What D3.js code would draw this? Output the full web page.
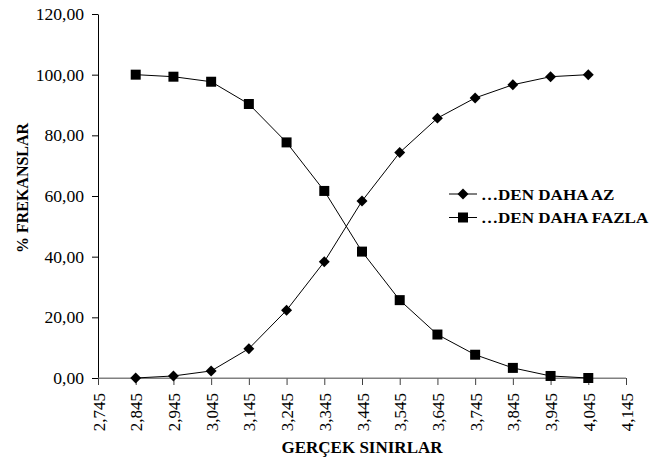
<!DOCTYPE html>
<html><head><meta charset="utf-8">
<script src="https://cdn.jsdelivr.net/npm/d3@7"></script>
<style>
body{margin:0;background:#fff;}
svg{display:block;}
svg text{font-family:"Liberation Serif","Times New Roman",serif !important;}
</style></head>
<body>
<svg id="c" width="651" height="461" font-family="Liberation Serif"></svg>
<script>
const xTicks = [2.745,2.845,2.945,3.045,3.145,3.245,3.345,3.445,3.545,3.645,3.745,3.845,3.945,4.045,4.145];
const boundaries = [2.845,2.945,3.045,3.145,3.245,3.345,3.445,3.545,3.645,3.745,3.845,3.945,4.045];
const lessThan = [0,0.67,2.33,9.67,22.33,38.33,58.33,74.33,85.67,92.33,96.67,99.33,100];
const moreThan = [100,99.33,97.67,90.33,77.67,61.67,41.67,25.67,14.33,7.67,3.33,0.67,0];
const yTicks = [0,20,40,60,80,100,120];
const seriesNames = ["…DEN DAHA AZ","…DEN DAHA FAZLA"];
const xTitle = "GERÇEK SINIRLAR";
const yTitle = "% FREKANSLAR";

const FONT = "Liberation Serif";
const svg = d3.select("#c");
const x = d3.scaleLinear().domain([2.745,4.145]).range([98,626]);
const y = d3.scaleLinear().domain([0,120]).range([378,14]);
const fmt = (v,d)=> v.toFixed(d).replace(".",",");

// x axis
const xa = svg.append("g").attr("transform","translate(0,378)")
  .call(d3.axisBottom(x).tickValues(xTicks).tickSize(7).tickSizeOuter(0).tickFormat(d=>fmt(d,3)));
xa.attr("font-family",FONT);
xa.select(".domain").attr("stroke","#808080");
xa.selectAll(".tick line").attr("stroke","#404040");
xa.selectAll(".tick text")
  .attr("font-family",FONT).attr("font-size",17).attr("fill","#000")
  .attr("transform","rotate(-90)").attr("text-anchor","end")
  .attr("x",-15).attr("y",0).attr("dy","0.36em");

// y axis
const ya = svg.append("g").attr("transform","translate(98,0)")
  .call(d3.axisLeft(y).tickValues(yTicks).tickSize(6).tickSizeOuter(0).tickFormat(d=>fmt(d,2)));
ya.attr("font-family",FONT);
ya.select(".domain").attr("stroke","#000");
ya.selectAll(".tick text").attr("font-family",FONT).attr("font-size",16).attr("fill","#000")
  .attr("x",0).attr("dy","0.34em")
  .attr("transform","translate(-14,0) scale(1.1,1)");
svg.append("line").attr("x1",x(2.745)).attr("x2",x(4.145)).attr("y1",y(0)).attr("y2",y(0)).attr("stroke","#808080");

// titles
svg.append("text").attr("x",362).attr("y",452.5).attr("text-anchor","middle")
  .attr("font-family",FONT).attr("font-weight","bold").attr("font-size",17).text(xTitle);
svg.append("text").attr("transform","translate(28,188) rotate(-90)").attr("text-anchor","middle")
  .attr("font-family",FONT).attr("font-weight","bold").attr("font-size",16).text(yTitle);

const line = d3.line().x((d,i)=>x(boundaries[i])).y(d=>y(d));
const sq = d3.symbol().type(d3.symbolSquare).size(100);
const dm = d3.symbol().type(d3.symbolSquare).size(60);

function series(vals, isSquare){
  svg.append("path").attr("d",line(vals)).attr("fill","none").attr("stroke","#000").attr("stroke-width",1);
  svg.append("g").selectAll("path").data(vals).join("path")
    .attr("transform",(d,i)=>`translate(${x(boundaries[i])},${y(d)})${isSquare?"":" rotate(45)"}`)
    .attr("d",isSquare?sq:dm).attr("fill","#000");
}
series(lessThan,false);
series(moreThan,true);

// legend
const leg = svg.append("g");
[[0,false],[1,true]].forEach(([i,isSq])=>{
  const ly = 194 + i*23.5;
  leg.append("line").attr("x1",449).attr("x2",477).attr("y1",ly).attr("y2",ly).attr("stroke","#000");
  leg.append("path").attr("transform",`translate(463,${ly})${isSq?"":" rotate(45)"}`).attr("d",isSq?sq:dm).attr("fill","#000");
  leg.append("text").attr("transform",`translate(481,${ly+5.5}) scale(1.1,1)`)
    .attr("font-family",FONT).attr("font-weight","bold").attr("font-size",15.5).text(seriesNames[i]);
});
</script>
</body></html>
